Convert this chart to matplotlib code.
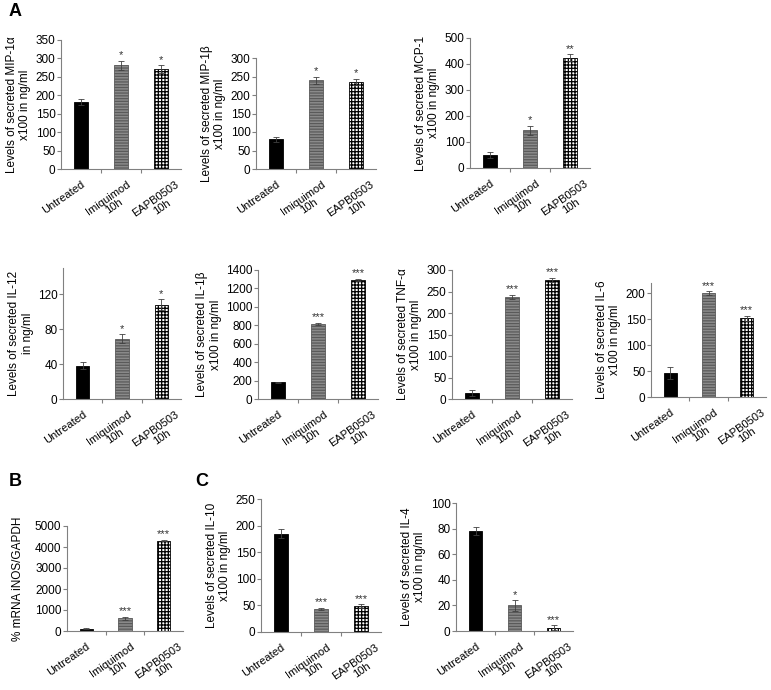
import matplotlib
matplotlib.use("Agg")
import matplotlib.pyplot as plt
import matplotlib.transforms as mtrans

plt.rcParams['font.family'] = ['Liberation Sans', 'DejaVu Sans']
plt.rcParams['hatch.linewidth'] = 0.9

W, H = 771, 690

categories = ["Untreated", "Imiquimod\n10h", "EAPB0503\n10h"]

mip1a_vals = [182, 281, 271]
mip1a_err = [7, 13, 10]
mip1a_sig = ["", "*", "*"]

mip1b_vals = [80, 240, 235]
mip1b_err = [6, 10, 8]
mip1b_sig = ["", "*", "*"]

mcp1_vals = [50, 145, 425]
mcp1_err = [12, 18, 12]
mcp1_sig = ["", "*", "**"]

il12_vals = [38, 69, 108]
il12_err = [4, 5, 6]
il12_sig = ["", "*", "*"]

il1b_vals = [180, 815, 1290]
il1b_err = [5, 15, 10]
il1b_sig = ["", "***", "***"]

tnfa_vals = [15, 237, 277]
tnfa_err = [7, 5, 4]
tnfa_sig = ["", "***", "***"]

il6_vals = [46, 200, 152]
il6_err = [12, 4, 5]
il6_sig = ["", "***", "***"]

inos_vals = [100, 600, 4300]
inos_err = [20, 80, 30]
inos_sig = ["", "***", "***"]

il10_vals = [185, 44, 49]
il10_err = [8, 2, 3]
il10_sig = ["", "***", "***"]

il4_vals = [78, 20, 2.5]
il4_err = [3, 4, 2]
il4_sig = ["", "*", "***"]

fig = plt.figure(figsize=(W / 100, H / 100), dpi=100)

GREY = '#808080'
FS = 8.5
XFS = 8.0
# horizontal shift (px) of each category label's top-right corner from the category centre
LABEL_DX = [0, 5, 14]
LABEL_DY = -10


def panel(box, vals, errs, sigs, ylabel, ylim, ystep, labelpad=3):
    left, right, top, bottom = box
    ax = fig.add_axes([left / W, 1 - bottom / H, (right - left) / W, (bottom - top) / H])
    x = list(range(len(vals)))
    styles = [
        dict(facecolor='black', edgecolor='black', hatch=None),
        dict(facecolor='#8a8a8a', edgecolor='#5a5a5a', hatch='------'),
        dict(facecolor='white', edgecolor='black', hatch='+++++'),
    ]
    for i, (v, e) in enumerate(zip(vals, errs)):
        ax.bar(x[i], v, width=0.34, linewidth=0.6, **styles[i], zorder=2)
        ax.errorbar(x[i], v, yerr=e, fmt='none', ecolor='#404040',
                    elinewidth=0.6, capsize=2, capthick=0.6, zorder=3)
        if sigs[i]:
            ax.text(x[i], v + e + ylim * 0.005, sigs[i], ha='center', va='bottom',
                    fontsize=8, color='#333333')
    ax.set_xlim(-0.5, 2.5)
    ax.set_ylim(0, ylim)
    ax.set_yticks([t * ystep for t in range(int(ylim // ystep) + 1)])
    ax.set_xticks([0.5, 1.5])
    ax.set_xticklabels([])
    ax.tick_params(axis='x', which='major', length=3, color=GREY, width=0.8)
    ax.tick_params(axis='y', length=3, color=GREY, width=0.8, labelsize=FS, pad=1)
    base = ax.get_xaxis_transform()
    for i, lab in enumerate(categories):
        off = mtrans.ScaledTranslation(LABEL_DX[i] / 100, LABEL_DY / 100, fig.dpi_scale_trans)
        ax.text(x[i], 0, lab, transform=base + off, rotation=35, ha='right', va='top',
                rotation_mode='anchor', multialignment='center', fontsize=XFS,
                linespacing=1.05, clip_on=False)
    for s in ['top', 'right']:
        ax.spines[s].set_visible(False)
    for s in ['left', 'bottom']:
        ax.spines[s].set_color(GREY)
        ax.spines[s].set_linewidth(0.8)
    ax.set_ylabel(ylabel, fontsize=FS, multialignment='center', labelpad=labelpad,
                  linespacing=1.15)
    return ax


panel((61, 181, 40, 169), mip1a_vals, mip1a_err, mip1a_sig,
      "Levels of secreted MIP-1\u03b1\nx100 in ng/ml", 350, 50)
panel((256, 376, 58, 169), mip1b_vals, mip1b_err, mip1b_sig,
      "Levels of secreted MIP-1\u03b2\nx100 in ng/ml", 300, 50)
panel((470, 590, 38, 168), mcp1_vals, mcp1_err, mcp1_sig,
      "Levels of secreted MCP-1\nx100 in ng/ml", 500, 100)

panel((63, 181, 268, 399), il12_vals, il12_err, il12_sig,
      "Levels of secreted IL-12\nin ng/ml", 150, 40)
panel((258, 378, 270, 399), il1b_vals, il1b_err, il1b_sig,
      "Levels of secreted IL-1\u03b2\nx100 in ng/ml", 1400, 200)
panel((452, 572, 270, 399), tnfa_vals, tnfa_err, tnfa_sig,
      "Levels of secreted TNF-\u03b1\nx100 in ng/ml", 300, 50)
panel((651, 766, 283, 397), il6_vals, il6_err, il6_sig,
      "Levels of secreted IL-6\nx100 in ng/ml", 220, 50)

panel((67, 183, 526, 631), inos_vals, inos_err, inos_sig,
      "% mRNA iNOS/GAPDH", 5000, 1000, labelpad=8)
panel((261, 381, 499, 632), il10_vals, il10_err, il10_sig,
      "Levels of secreted IL-10\nx100 in ng/ml", 250, 50)
panel((456, 573, 503, 631), il4_vals, il4_err, il4_sig,
      "Levels of secreted IL-4\nx100 in ng/ml", 100, 20)

fig.text(15 / W, 1 - 11 / H, "A", fontsize=13, fontweight='bold', ha='center', va='center')
fig.text(15 / W, 1 - 482 / H, "B", fontsize=13, fontweight='bold', ha='center', va='center')
fig.text(202 / W, 1 - 482 / H, "C", fontsize=13, fontweight='bold', ha='center', va='center')

fig.savefig("out.png", dpi=100)
